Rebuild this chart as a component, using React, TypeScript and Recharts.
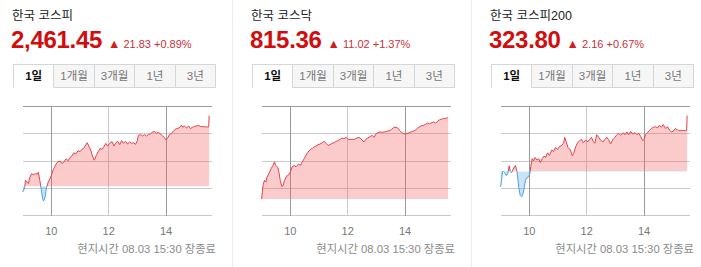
import { AreaChart, Area, XAxis, YAxis, CartesianGrid } from 'recharts';

const indexNames = ['한국 코스피', '한국 코스닥', '한국 코스피200'];
const closePrices = [2461.45, 815.36, 323.8];
const priceChanges = [21.83, 11.02, 2.16];
const changePercents = [0.89, 1.37, 0.67];
const yDomains = [
  [2430.6, 2464.25],
  [802.13, 816.8],
  [319.94, 324.15],
];

const rangeTabs = ['1일', '1개월', '3개월', '1년', '3년'];
const hourTicks = [600, 720, 840];
const hourLabels = ['10', '12', '14'];
const sessionNote = '현지시간 08.03 15:30 장종료';
const timeDomain = [540, 936];

// times are minutes after midnight
const kospiTimes = [
  540, 544, 546, 550, 552, 555, 559, 562, 567, 571,
  573, 576, 579, 582, 584, 587, 590, 593, 597, 600,
  603, 607, 610, 614, 619, 622, 626, 631, 635, 639,
  643, 647, 651, 656, 660, 664, 668, 672, 675, 679,
  683, 686, 690, 694, 698, 702, 706, 710, 714, 718,
  722, 727, 731, 735, 739, 743, 747, 751, 755, 759,
  764, 768, 772, 776, 780, 782, 787, 791, 795, 799,
  803, 807, 812, 816, 820, 824, 828, 833, 837, 840,
  844, 847, 851, 855, 859, 863, 867, 872, 875, 878,
  883, 887, 891, 895, 899, 903, 908, 912, 917, 923,
  927, 929, 930,
];
const kospiValues = [
  2437.86, 2438.9, 2441.48, 2440.66, 2440.45, 2442.31, 2443.55, 2443.14, 2443.55, 2443.35,
  2443.97, 2441.48, 2438.58, 2435.79, 2435.07, 2436.31, 2439.21, 2440.66, 2441.9, 2442.93,
  2444.38, 2445.62, 2446.45, 2447.28, 2447.38, 2446.66, 2447.07, 2448.11, 2447.49, 2448.52,
  2448.94, 2449.97, 2449.56, 2450.59, 2450.28, 2451.01, 2451.32, 2452.35, 2453.08, 2451.84,
  2450.59, 2448.94, 2447.69, 2449.14, 2450.28, 2451.32, 2451.01, 2451.84, 2452.87, 2452.04,
  2452.87, 2453.39, 2452.04, 2453.08, 2453.49, 2452.46, 2453.7, 2452.87, 2453.49, 2452.66,
  2453.28, 2452.87, 2453.08, 2452.56, 2453.7, 2455.35, 2455.56, 2455.15, 2455.56, 2455.15,
  2455.56, 2455.77, 2456.39, 2456.6, 2455.98, 2456.29, 2455.77, 2455.15, 2454.53, 2453.91,
  2454.73, 2455.56, 2455.98, 2456.49, 2457.22, 2457.43, 2457.63, 2458.46, 2457.84, 2458.25,
  2457.63, 2458.25, 2457.43, 2457.84, 2458.05, 2458.25, 2458.46, 2458.05, 2458.05, 2457.94,
  2457.94, 2457.94, 2461.45,
];

const kosdaqTimes = [
  540, 543, 546, 549, 551, 556, 560, 564, 567, 569,
  574, 576, 579, 582, 585, 588, 592, 596, 600, 604,
  608, 612, 617, 621, 625, 629, 633, 637, 642, 646,
  650, 654, 658, 662, 667, 671, 675, 679, 683, 687,
  692, 696, 700, 704, 708, 712, 717, 721, 725, 729,
  733, 737, 742, 746, 750, 754, 758, 762, 767, 771,
  775, 779, 783, 787, 792, 796, 800, 804, 808, 812,
  817, 821, 825, 829, 833, 837, 841, 846, 850, 854,
  858, 862, 866, 871, 875, 879, 883, 887, 891, 896,
  900, 904, 908, 912, 916, 921, 925, 928, 930,
];
const kosdaqValues = [
  804.34, 806.19, 806.87, 806.64, 807.23, 807.86, 808.45, 808.9, 809.35, 808.9,
  808.59, 808.0, 806.87, 806.06, 806.15, 806.87, 807.41, 807.55, 808.0, 808.68,
  808.86, 808.68, 809.04, 808.9, 809.35, 809.76, 810.26, 810.66, 811.02, 811.16,
  811.39, 811.48, 811.66, 811.75, 811.93, 812.11, 811.84, 811.57, 811.66, 811.84,
  811.93, 812.11, 812.2, 812.38, 812.56, 812.47, 812.65, 812.38, 812.38, 812.38,
  812.38, 812.47, 812.65, 812.56, 812.29, 812.02, 812.38, 812.56, 812.74, 812.92,
  812.65, 813.1, 813.28, 813.37, 813.33, 813.37, 813.42, 813.51, 813.55, 813.73,
  814.01, 814.01, 813.87, 813.55, 813.28, 813.15, 813.1, 813.19, 813.33, 813.42,
  813.51, 813.64, 813.87, 814.1, 814.23, 814.27, 814.41, 814.55, 814.46, 814.64,
  814.73, 814.55, 814.82, 815.0, 815.09, 815.18, 815.18, 815.27, 815.36,
];

const k200Times = [
  540, 542, 544, 546, 549, 552, 555, 558, 560, 563,
  566, 569, 571, 574, 576, 578, 581, 584, 587, 590,
  592, 595, 598, 601, 603, 606, 609, 612, 616, 620,
  623, 627, 631, 634, 638, 642, 647, 651, 655, 659,
  663, 668, 672, 674, 677, 681, 686, 690, 693, 697,
  701, 705, 709, 713, 718, 722, 726, 730, 734, 737,
  741, 745, 750, 754, 758, 762, 766, 770, 775, 779,
  783, 787, 791, 796, 800, 804, 808, 812, 816, 821,
  825, 829, 833, 837, 840, 843, 847, 851, 855, 860,
  864, 868, 872, 876, 880, 885, 889, 893, 897, 901,
  905, 910, 914, 918, 922, 926, 929, 930,
];
const k200Values = [
  321.04, 321.3, 321.63, 321.64, 321.59, 321.48, 321.56, 321.86, 321.64, 321.59,
  321.72, 321.82, 321.87, 321.67, 321.37, 321.02, 320.72, 320.66, 320.79, 321.07,
  321.3, 321.41, 321.43, 321.54, 321.82, 322.14, 322.05, 322.18, 322.08, 322.13,
  321.98, 322.14, 322.24, 322.18, 322.36, 322.26, 322.47, 322.42, 322.57, 322.49,
  322.6, 322.65, 322.75, 322.96, 322.79, 322.57, 322.47, 322.24, 322.34, 322.6,
  322.75, 322.83, 322.88, 322.75, 322.86, 322.78, 322.88, 322.96, 322.79, 322.73,
  323.06, 322.96, 322.83, 322.78, 322.88, 322.96, 322.86, 322.7, 322.88, 322.96,
  323.06, 323.11, 323.04, 323.14, 323.06, 323.17, 323.06, 323.19, 323.09, 323.14,
  323.06, 323.11, 322.99, 322.83, 322.88, 323.06, 323.14, 323.22, 323.3, 323.35,
  323.37, 323.32, 323.43, 323.35, 323.45, 323.3, 323.37, 323.24, 323.17, 323.19,
  323.3, 323.24, 323.22, 323.22, 323.22, 323.22, 323.22, 323.8,
];

const seriesTimes = [kospiTimes, kosdaqTimes, k200Times];
const seriesValues = [kospiValues, kosdaqValues, k200Values];

const UP = '#e3434c';
const DOWN = '#4a9fe2';
const SANS = '"Liberation Sans", Arial, "Noto Sans CJK KR", sans-serif';

const fmt2 = (n: number) =>
  n.toLocaleString('en-US', { minimumFractionDigits: 2, maximumFractionDigits: 2 });

// map a domain value into the plot box; prefer the axis scale when the grid hands one over
const toX = (args: any, t: number) => {
  const s = args?.xAxis?.scale;
  if (typeof s === 'function') return s(t);
  const o = args.offset;
  return o.left + ((t - timeDomain[0]) / (timeDomain[1] - timeDomain[0])) * o.width;
};
const toY = (args: any, v: number, lo: number, hi: number) => {
  const s = args?.yAxis?.scale;
  if (typeof s === 'function') return s(v);
  const o = args.offset;
  return o.top + ((hi - v) / (hi - lo)) * o.height;
};

function IndexPanel({ idx }: { idx: number }) {
  const close = closePrices[idx];
  const change = priceChanges[idx];
  const prev = +(close - change).toFixed(2);
  const values = seriesValues[idx];
  const rows = seriesTimes[idx].map((t, i) => ({ t, v: values[i] }));

  // split colours at the previous close: red above, blue below
  const dMin = Math.min(...values);
  const dMax = Math.max(...values);
  const fLo = Math.min(dMin, prev);
  const fHi = Math.max(dMax, prev);
  const fillSplit = (fHi - prev) / (fHi - fLo);
  const lineSplit = Math.min(1, Math.max(0, (dMax - prev) / (dMax - dMin)));

  const [lo, hi] = yDomains[idx];
  // four equal bands; the top edge gets the darker rule
  const bandLevels = [0, 1, 2, 3].map((k) => lo + ((hi - lo) * k) / 4);

  return (
    <div
      style={{
        position: 'absolute',
        left: idx * 239,
        top: 0,
        width: 232,
        height: 267,
        borderRight: '1px solid #ececec',
        fontFamily: SANS,
      }}
    >
      <div style={{ position: 'absolute', left: 12, top: 8, fontSize: 12.5, color: '#222', lineHeight: '16px' }}>
        {indexNames[idx]}
      </div>
      <div
        style={{
          position: 'absolute',
          left: 11,
          top: 26,
          display: 'flex',
          alignItems: 'baseline',
          whiteSpace: 'nowrap',
          color: '#d10d0d',
        }}
      >
        <span style={{ fontSize: 24, fontWeight: 700, letterSpacing: -0.3 }}>{fmt2(close)}</span>
        <span style={{ fontSize: 12.5, marginLeft: 6, color: '#d21d1d' }}>▲</span>
        <span style={{ fontSize: 11, marginLeft: 3, color: '#c9303a' }}>
          {fmt2(change)} +{changePercents[idx].toFixed(2)}%
        </span>
      </div>

      <div style={{ position: 'absolute', left: 13, top: 64, width: 203, height: 24, display: 'flex' }}>
        {rangeTabs.map((label, i) => (
          <div
            key={label}
            style={{
              flex: 1,
              boxSizing: 'border-box',
              height: 24,
              borderTop: '1px solid #d6d6d6',
              borderRight: '1px solid #d6d6d6',
              borderLeft: i === 0 ? '1px solid #d6d6d6' : 'none',
              borderBottom: i === 0 ? '1px solid #fff' : '1px solid #d6d6d6',
              background: i === 0 ? '#fff' : '#f6f6f6',
              color: i === 0 ? '#111' : '#777',
              fontWeight: i === 0 ? 700 : 400,
              fontSize: 11.5,
              lineHeight: '22px',
              textAlign: 'center',
            }}
          >
            {label}
          </div>
        ))}
      </div>

      <div style={{ position: 'absolute', left: 0, top: 0 }}>
        <AreaChart
          width={232}
          height={240}
          data={rows}
          margin={{ top: 106.5, right: 20, bottom: 0, left: 22.6 }}
        >
          <defs>
            <linearGradient id={`fill${idx}`} x1="0" y1="0" x2="0" y2="1">
              <stop offset={fillSplit} stopColor="#f45b5b" stopOpacity={0.32} />
              <stop offset={fillSplit} stopColor="#5ba9ea" stopOpacity={0.32} />
            </linearGradient>
            <linearGradient id={`line${idx}`} x1="0" y1="0" x2="0" y2="1">
              <stop offset={lineSplit} stopColor={UP} />
              <stop offset={lineSplit} stopColor={DOWN} />
            </linearGradient>
          </defs>
          {/* light bands and the 12 o'clock rule */}
          <CartesianGrid
            stroke="#c9c9c9"
            strokeWidth={1}
            shapeRendering="crispEdges"
            horizontalCoordinatesGenerator={(args: any) => bandLevels.map((v) => toY(args, v, lo, hi))}
            verticalCoordinatesGenerator={(args: any) => [toX(args, hourTicks[1])]}
          />
          {/* darker top rule and the 10 / 14 rules */}
          <CartesianGrid
            stroke="#9a9a9a"
            strokeWidth={1}
            shapeRendering="crispEdges"
            horizontalCoordinatesGenerator={(args: any) => [toY(args, hi, lo, hi)]}
            verticalCoordinatesGenerator={(args: any) => [toX(args, hourTicks[0]), toX(args, hourTicks[2])]}
          />
          <XAxis
            dataKey="t"
            type="number"
            domain={timeDomain}
            ticks={hourTicks}
            tickFormatter={(v: number) => hourLabels[hourTicks.indexOf(v)]}
            axisLine={false}
            tickLine={false}
            tickMargin={6}
            height={24.5}
            tick={{ fill: '#777', fontSize: 11, fontFamily: SANS }}
          />
          <YAxis hide domain={[lo, hi]} allowDataOverflow />
          <Area
            type="linear"
            dataKey="v"
            baseValue={prev}
            stroke={`url(#line${idx})`}
            strokeWidth={1}
            fill={`url(#fill${idx})`}
            fillOpacity={1}
            dot={false}
            activeDot={false}
            isAnimationActive={false}
          />
        </AreaChart>
      </div>

      <div
        style={{
          position: 'absolute',
          right: 16,
          top: 241,
          fontSize: 11.3,
          color: '#8a8a8a',
          whiteSpace: 'nowrap',
          lineHeight: '16px',
        }}
      >
        {sessionNote}
      </div>
    </div>
  );
}

export default function App() {
  return (
    <div style={{ position: 'absolute', left: 0, top: 0, width: 701, height: 267, background: '#fff', overflow: 'hidden' }}>
      {indexNames.map((_, i) => (
        <IndexPanel key={i} idx={i} />
      ))}
    </div>
  );
}
